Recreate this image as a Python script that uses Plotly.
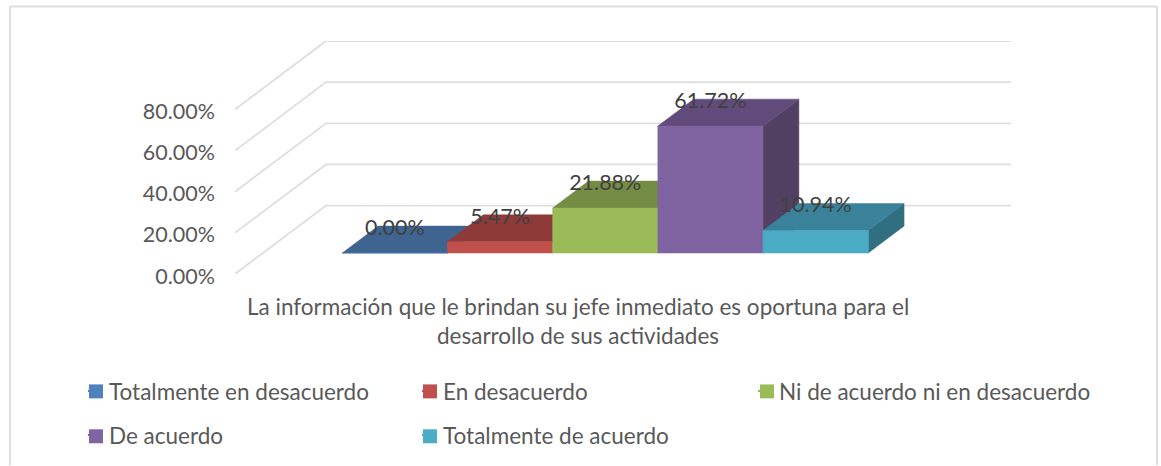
import plotly.graph_objects as go

# ---------- data ----------
series_names = ["Totalmente en desacuerdo", "En desacuerdo", "Ni de acuerdo ni en desacuerdo",
                "De acuerdo", "Totalmente de acuerdo"]
series_values = [0.0, 0.0547, 0.2188, 0.6172, 0.1094]
category_lines = ["La información que le brindan su jefe inmediato es oportuna para el",
                  "desarrollo de sus actividades"]
y_ticks = [0.0, 0.2, 0.4, 0.6, 0.8]

front_colors = ["#4F81BD", "#C0504D", "#9BBB59", "#8064A2", "#4BACC6"]
top_colors = ["#3F6490", "#8E3A38", "#748C43", "#604B7A", "#39829A"]
side_colors = ["#35557A", "#783230", "#637838", "#524062", "#306F80"]

# ---------- layout helpers ----------
W, H = 1161, 466
PLOT_L, PLOT_R, PLOT_T, PLOT_B = 235, 1011, 40.7, 274.3
Y_MAX = 1.1326
X_MIN, X_MAX = -0.755, 6.622
DX, DY = 0.865, 0.3326       # oblique shift of the floor depth, in axis units
D_NEAR, D_FAR = 0.306, 0.70  # where the bars sit in the depth
LABEL_LIFT = 0.114
FONT = "Lato"
GRID = "#dedede"
LABEL_SIZE = 21.5
LEGEND_SWATCH_X = [89, 423, 760, 89, 423]
LEGEND_ROW_Y = [392, 392, 392, 437, 437]
LEGEND_TEXT_SHIFT = [0, 0, -1, 0, 0]
SWATCH = 14


def project(u, v, d):
    return u + d * DX, v + d * DY


def poly(points):
    xs, ys = zip(*[project(*p) for p in points])
    return list(xs) + [xs[0]], list(ys) + [ys[0]]


def px_x(px):
    return px / W


def px_y(px):
    return (PLOT_B - px) / (PLOT_B - PLOT_T)


fig = go.Figure()

# walls
gx, gy = [], []
for t in y_ticks:
    gx += [X_MIN, X_MIN + DX, X_MAX, None]
    gy += [t, t + DY, t + DY, None]
fig.add_trace(go.Scatter(x=gx, y=gy, mode="lines", line=dict(color=GRID, width=1.8),
                         showlegend=False, hoverinfo="skip"))

# bars, painted left to right
for i, v in enumerate(series_values):
    faces = [
        (side_colors[i], [(i + 1, 0, D_NEAR), (i + 1, v, D_NEAR), (i + 1, v, D_FAR), (i + 1, 0, D_FAR)]),
        (top_colors[i], [(i, v, D_NEAR), (i + 1, v, D_NEAR), (i + 1, v, D_FAR), (i, v, D_FAR)]),
        (front_colors[i], [(i, 0, D_NEAR), (i + 1, 0, D_NEAR), (i + 1, v, D_NEAR), (i, v, D_NEAR)]),
    ]
    for color, pts in faces:
        xs, ys = poly(pts)
        fig.add_trace(go.Scatter(x=xs, y=ys, mode="lines", fill="toself", fillcolor=color,
                                 line=dict(color=color, width=0.5), showlegend=False,
                                 name=series_names[i], hoverinfo="name"))

# data labels
lx, ly = zip(*[project(i + 0.5, v + LABEL_LIFT, D_NEAR) for i, v in enumerate(series_values)])
fig.add_trace(go.Scatter(x=list(lx), y=list(ly), mode="text",
                         text=[f"{v * 100:.2f}%" for v in series_values],
                         textposition="middle center",
                         textfont=dict(family=FONT, size=LABEL_SIZE, color="#404040"),
                         showlegend=False, hoverinfo="skip"))

# legend entries: one small legend per entry, so each sits in its own column and row
legends = {}
for i, name in enumerate(series_names):
    key = "legend" if i == 0 else f"legend{i + 1}"
    fig.add_trace(go.Scatter(x=[None], y=[None], mode="markers", name=name,
                             marker=dict(symbol="square", size=2, color=front_colors[i]),
                             legend=key, showlegend=True))
    legends[key] = dict(orientation="v", xanchor="left", yanchor="middle",
                        x=px_x(LEGEND_SWATCH_X[i] + 20 - 26 + LEGEND_TEXT_SHIFT[i]),
                        y=px_y(392 if i < 3 else 436),
                        bgcolor="rgba(0,0,0,0)", indentation=-14, itemclick=False,
                        font=dict(family=FONT, size=22.5, color="#595959"))

annotations = [dict(text=t, xref="paper", yref="paper", x=px_x(578), y=px_y(py), showarrow=False,
                    xanchor="center", yanchor="middle",
                    font=dict(family=FONT, size=22.5, color="#595959"))
               for t, py in zip(category_lines, [307, 336])]

# chart frame, open at the bottom like the cropped original
frame = [(10, 466, 10, 6), (10, 6, 1157, 6), (1157, 6, 1157, 466)]
shapes = [dict(type="line", xref="paper", yref="paper", x0=px_x(a), y0=px_y(b), x1=px_x(c), y1=px_y(d),
               line=dict(color="#dedede", width=2), layer="below") for a, b, c, d in frame]
# legend swatches, placed closer to their text than the legend's own marker slot allows
shapes += [dict(type="rect", xref="paper", yref="paper",
                x0=px_x(sx), x1=px_x(sx + SWATCH), y0=px_y(sy + SWATCH / 2), y1=px_y(sy - SWATCH / 2),
                fillcolor=c, line=dict(width=0))
           for sx, sy, c in zip(LEGEND_SWATCH_X, LEGEND_ROW_Y, front_colors)]

fig.update_layout(
    width=W, height=H, autosize=False, paper_bgcolor="white", plot_bgcolor="white",
    margin=dict(l=0, r=0, t=PLOT_T, b=H - PLOT_B, pad=0, autoexpand=False),
    hovermode="closest",
    xaxis=dict(domain=[PLOT_L / W, PLOT_R / W], range=[X_MIN, X_MAX], visible=False),
    yaxis=dict(range=[0, Y_MAX], tickmode="array", tickvals=y_ticks, tickformat=".2%",
               showgrid=False, zeroline=False, showline=False, ticks="", ticklabelstandoff=19,
               ticklabelshift=2,
               tickfont=dict(family=FONT, size=LABEL_SIZE, color="#595959")),
    annotations=annotations,
    shapes=shapes,
    **legends,
)

fig.write_html("out.html", config={"displayModeBar": False},
               post_script="document.body.style.margin='0';")
